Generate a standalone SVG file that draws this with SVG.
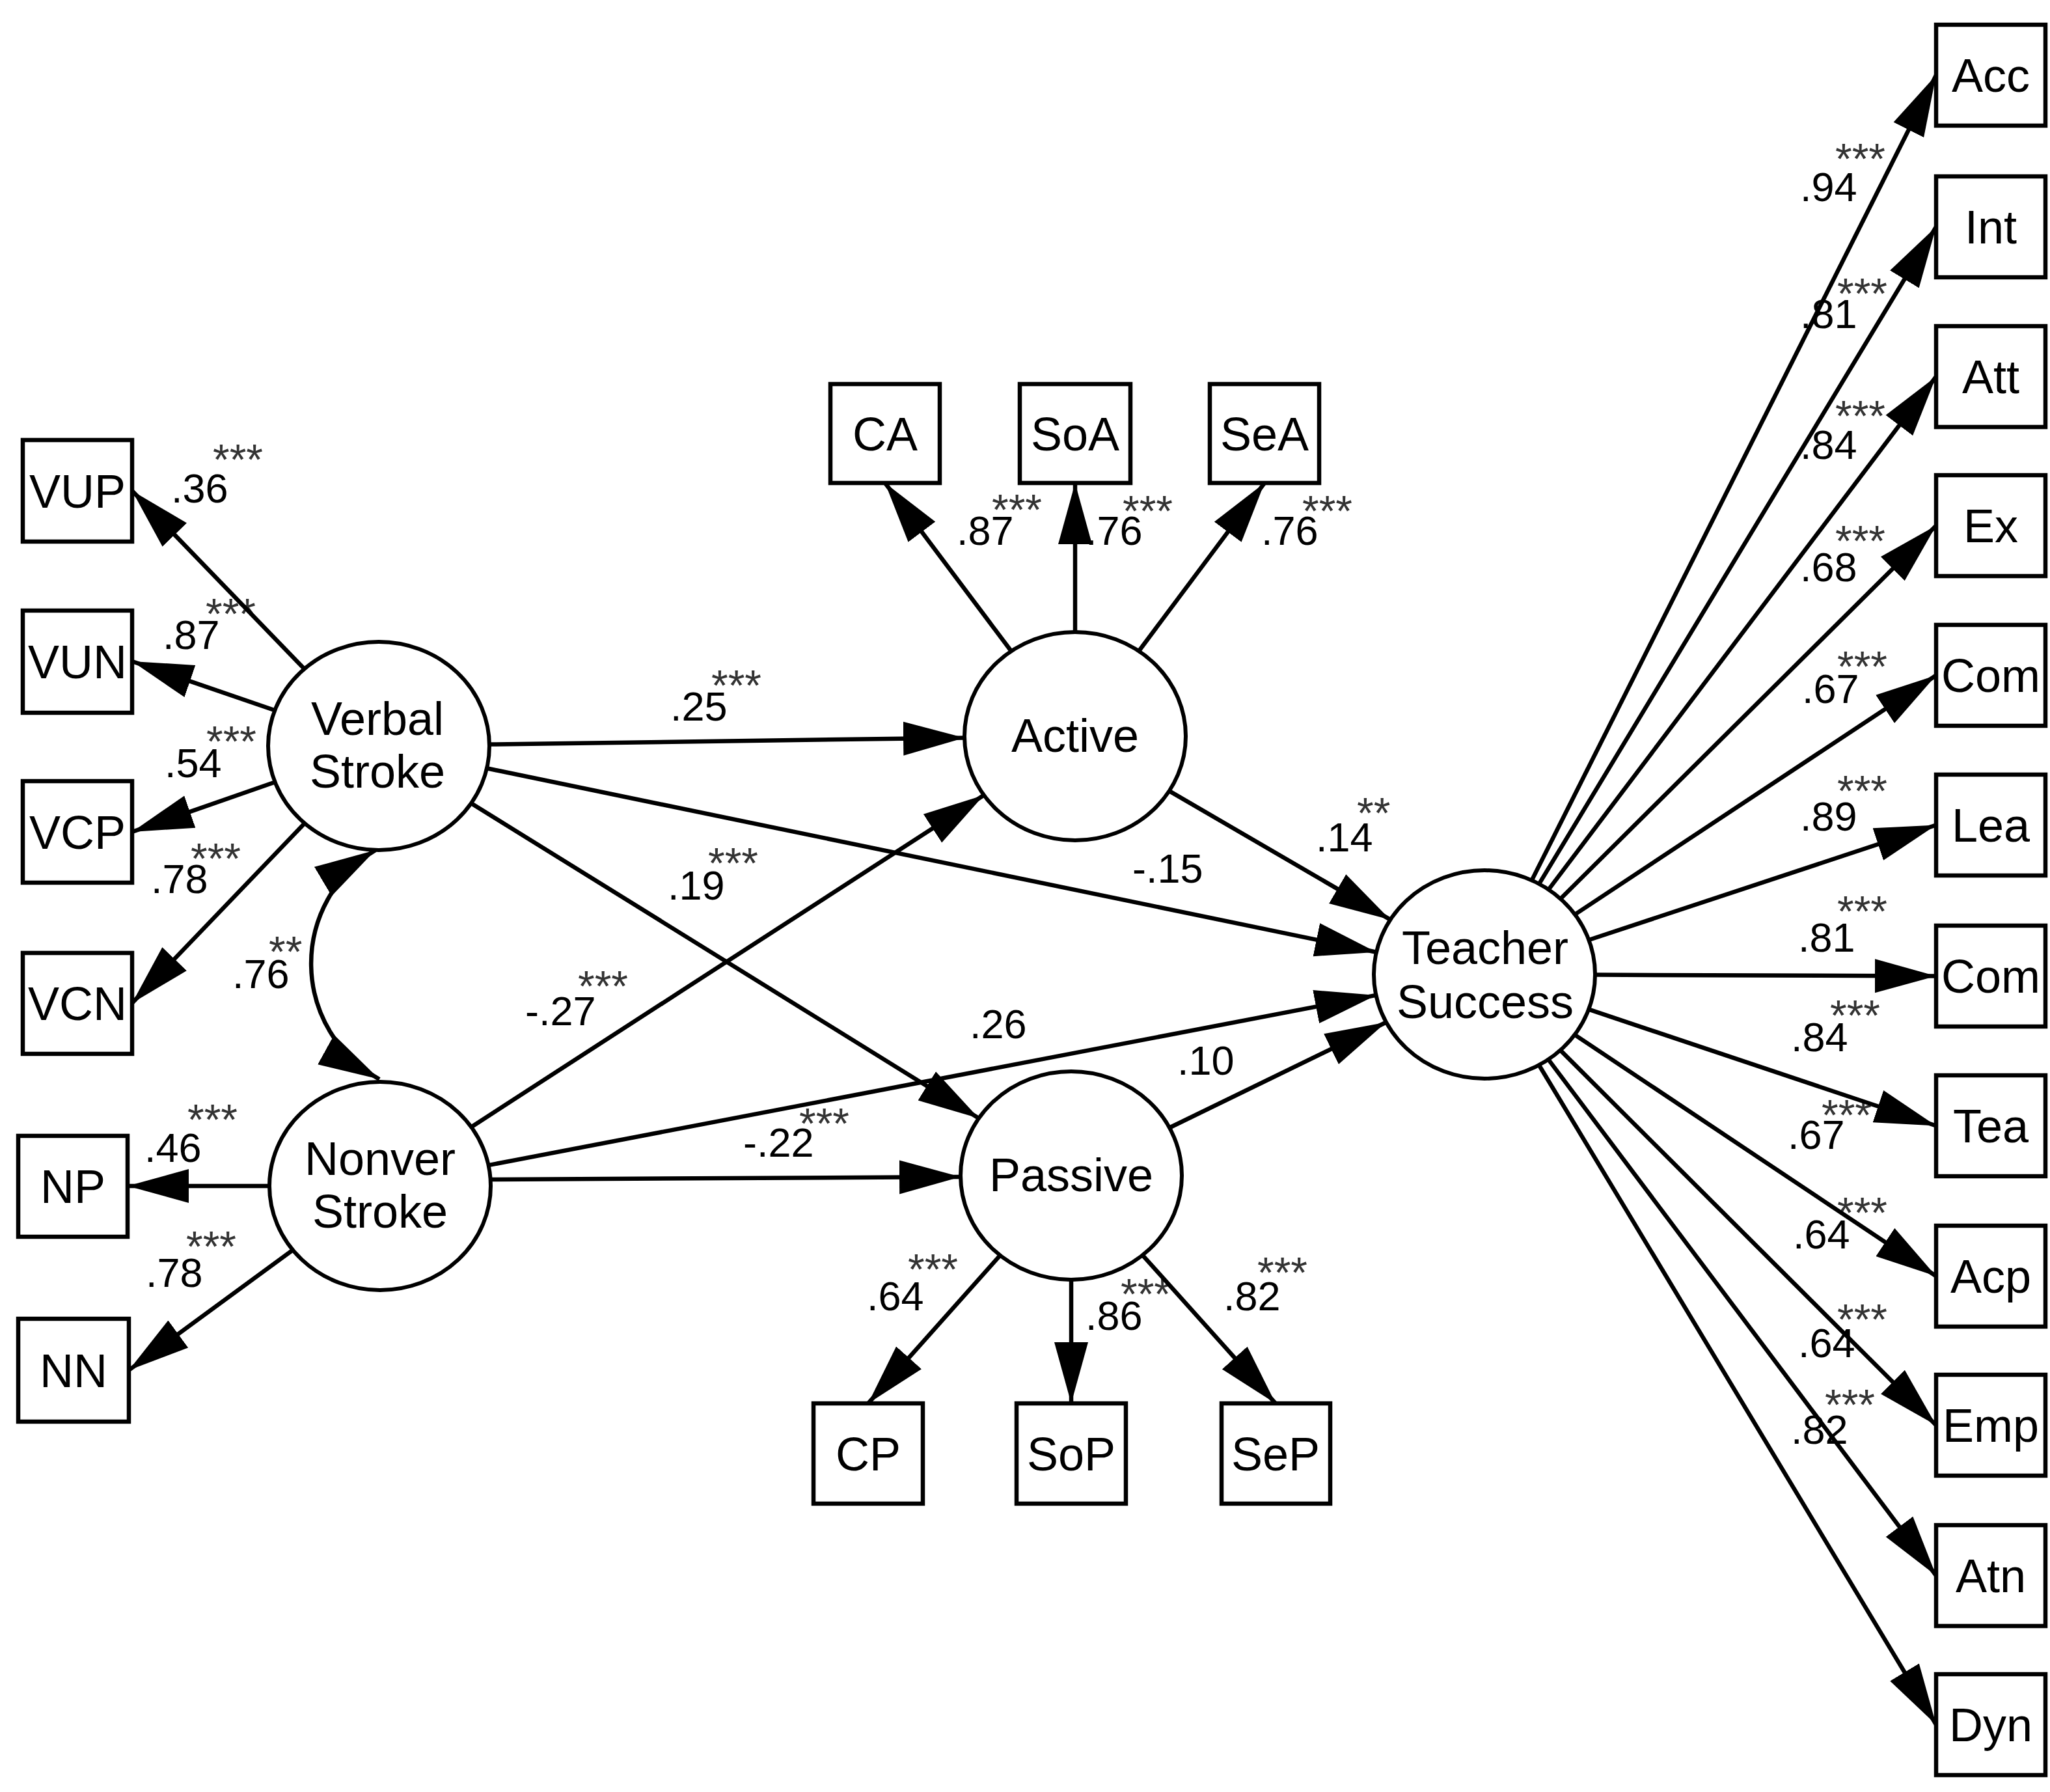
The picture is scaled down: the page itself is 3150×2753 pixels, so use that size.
<svg xmlns="http://www.w3.org/2000/svg" width="3150" height="2753" viewBox="0 0 3150 2753">
<style>
.bx{fill:#fff;stroke:#000;stroke-width:6.5}
.el{fill:#fff;stroke:#000;stroke-width:6}
.ln{fill:none;stroke:#000;stroke-width:6.5}
.nt{font-family:"Liberation Sans",Arial,sans-serif;font-size:72px;fill:#000;text-anchor:middle}
.num{font-family:"Liberation Sans",Arial,sans-serif;font-size:63px;fill:#000}
.st{font-family:"Liberation Sans",Arial,sans-serif;font-size:66px;fill:#333}
</style>
<defs>
<marker id="ah" markerUnits="userSpaceOnUse" viewBox="0 0 96 56" markerWidth="96" markerHeight="56" refX="94" refY="27" orient="auto-start-reverse">
<path d="M0,1 L94,27 L0,53 z" fill="#000"/>
</marker>
</defs>
<rect width="3150" height="2753" fill="#fff"/>

<g id="labels">
<text class="num" x="263" y="772">.36</text><text class="st" x="327" y="729">***</text>
<text class="num" x="250" y="997">.87</text><text class="st" x="316" y="966">***</text>
<text class="num" x="253" y="1194">.54</text><text class="st" x="317" y="1162">***</text>
<text class="num" x="232" y="1372">.78</text><text class="st" x="293" y="1342">***</text>
<text class="num" x="357" y="1518">.76</text><text class="st" x="413" y="1485">**</text>
<text class="num" x="222" y="1785">.46</text><text class="st" x="288" y="1743">***</text>
<text class="num" x="224" y="1977">.78</text><text class="st" x="286" y="1938">***</text>
<text class="num" x="1470" y="837">.87</text><text class="st" x="1524" y="806">***</text>
<text class="num" x="1668" y="837">.76</text><text class="st" x="1725" y="808">***</text>
<text class="num" x="1938" y="837">.76</text><text class="st" x="2001" y="808">***</text>
<text class="num" x="1030" y="1107">.25</text><text class="st" x="1093" y="1076">***</text>
<text class="num" x="1026" y="1382">.19</text><text class="st" x="1088" y="1349">***</text>
<text class="num" x="1740" y="1356">-.15</text>
<text class="num" x="807" y="1575">-.27</text><text class="st" x="888" y="1538">***</text>
<text class="num" x="1490" y="1595">.26</text>
<text class="num" x="1809" y="1651">.10</text>
<text class="num" x="1142" y="1777">-.22</text><text class="st" x="1228" y="1749">***</text>
<text class="num" x="2022" y="1308">.14</text><text class="st" x="2085" y="1272">**</text>
<text class="num" x="1332" y="2013">.64</text><text class="st" x="1395" y="1973">***</text>
<text class="num" x="1668" y="2043">.86</text><text class="st" x="1722" y="2011">***</text>
<text class="num" x="1880" y="2013">.82</text><text class="st" x="1932" y="1978">***</text>
<text class="num" x="2766" y="309">.94</text><text class="st" x="2820" y="267">***</text>
<text class="num" x="2766" y="504">.81</text><text class="st" x="2823" y="474">***</text>
<text class="num" x="2766" y="705">.84</text><text class="st" x="2820" y="662">***</text>
<text class="num" x="2766" y="893">.68</text><text class="st" x="2820" y="854">***</text>
<text class="num" x="2769" y="1080">.67</text><text class="st" x="2823" y="1047">***</text>
<text class="num" x="2766" y="1276">.89</text><text class="st" x="2823" y="1238">***</text>
<text class="num" x="2763" y="1462">.81</text><text class="st" x="2823" y="1423">***</text>
<text class="num" x="2752" y="1615">.84</text><text class="st" x="2812" y="1583">***</text>
<text class="num" x="2747" y="1765">.67</text><text class="st" x="2799" y="1736">***</text>
<text class="num" x="2755" y="1918">.64</text><text class="st" x="2823" y="1886">***</text>
<text class="num" x="2763" y="2085">.64</text><text class="st" x="2823" y="2050">***</text>
<text class="num" x="2752" y="2218">.82</text><text class="st" x="2804" y="2181">***</text>
</g>

<g id="connectors" class="ln" marker-end="url(#ah)">
<line x1="467.6" y1="1027.6" x2="203" y2="754"/>
<line x1="422.3" y1="1091.2" x2="203" y2="1016"/>
<line x1="422.6" y1="1201.5" x2="203" y2="1278"/>
<line x1="468.1" y1="1264.8" x2="203" y2="1541"/>
<line x1="414" y1="1822" x2="196" y2="1822"/>
<line x1="449.9" y1="1920.3" x2="198" y2="2105"/>
<line x1="1553.8" y1="1000.3" x2="1360" y2="742"/>
<line x1="1652" y1="971" x2="1652" y2="742"/>
<line x1="1749.9" y1="1000.2" x2="1943" y2="742"/>
<line x1="1536.7" y1="1928.6" x2="1334" y2="2156"/>
<line x1="1646" y1="1966" x2="1646" y2="2156"/>
<line x1="1755.7" y1="1928.3" x2="1960" y2="2156"/>
<line x1="752" y1="1143.6" x2="1482" y2="1133.4"/>
<line x1="748.1" y1="1180.3" x2="2114.9" y2="1462.7"/>
<line x1="723.9" y1="1234" x2="1504.1" y2="1718"/>
<line x1="724.1" y1="1731.4" x2="1511.9" y2="1221.6"/>
<line x1="750.5" y1="1790.1" x2="2114.5" y2="1528.9"/>
<line x1="754" y1="1812" x2="1476" y2="1808"/>
<line x1="1796.6" y1="1215.1" x2="2136.4" y2="1412.9"/>
<line x1="1797" y1="1732.5" x2="2130" y2="1570.5"/>
<line x1="2353.7" y1="1352.4" x2="2975" y2="115.5"/>
<line x1="2365" y1="1357.9" x2="2975" y2="348.5"/>
<line x1="2379.5" y1="1366.6" x2="2975" y2="578.5"/>
<line x1="2397.9" y1="1380.8" x2="2975" y2="807.5"/>
<line x1="2420" y1="1404.9" x2="2975" y2="1037.5"/>
<line x1="2441.4" y1="1444" x2="2975" y2="1267.5"/>
<line x1="2451" y1="1497.6" x2="2975" y2="1499.5"/>
<line x1="2441.2" y1="1550.7" x2="2975" y2="1729.5"/>
<line x1="2419.6" y1="1589.6" x2="2975" y2="1960.5"/>
<line x1="2397.6" y1="1613.4" x2="2975" y2="2189.5"/>
<line x1="2379.2" y1="1627.6" x2="2975" y2="2420.5"/>
<line x1="2364.8" y1="1636.2" x2="2975" y2="2649.5"/>
<path d="M577,1306 A203,203 0 0 0 583,1658" marker-start="url(#ah)"/>
</g>

<g id="node-VerbalStroke"><ellipse class="el" cx="582" cy="1146" rx="170" ry="160"/><text class="nt" x="580" y="1129">Verbal</text><text class="nt" x="580" y="1210">Stroke</text></g>
<g id="node-NonverStroke"><ellipse class="el" cx="584" cy="1822" rx="170" ry="160"/><text class="nt" x="584" y="1805">Nonver</text><text class="nt" x="584" y="1886">Stroke</text></g>
<g id="node-Active"><ellipse class="el" cx="1652" cy="1131" rx="170" ry="160"/><text class="nt" x="1652" y="1155">Active</text></g>
<g id="node-Passive"><ellipse class="el" cx="1646" cy="1806" rx="170" ry="160"/><text class="nt" x="1646" y="1830">Passive</text></g>
<g id="node-TeacherSuccess"><ellipse class="el" cx="2281" cy="1497" rx="170" ry="160"/><text class="nt" x="2282" y="1481">Teacher</text><text class="nt" x="2282" y="1564">Success</text></g>

<g id="node-VUP"><rect class="bx" x="35" y="676" width="168" height="156"/><text class="nt" x="119" y="780">VUP</text></g>
<g id="node-VUN"><rect class="bx" x="35" y="938" width="168" height="157"/><text class="nt" x="119" y="1042">VUN</text></g>
<g id="node-VCP"><rect class="bx" x="35" y="1200" width="168" height="156"/><text class="nt" x="119" y="1304">VCP</text></g>
<g id="node-VCN"><rect class="bx" x="35" y="1464" width="168" height="155"/><text class="nt" x="119" y="1567">VCN</text></g>
<g id="node-NP"><rect class="bx" x="28" y="1745" width="168" height="155"/><text class="nt" x="112" y="1848">NP</text></g>
<g id="node-NN"><rect class="bx" x="28" y="2026" width="170" height="158"/><text class="nt" x="113" y="2131">NN</text></g>

<g id="node-CA"><rect class="bx" x="1276" y="590" width="168" height="152"/><text class="nt" x="1360" y="692">CA</text></g>
<g id="node-SoA"><rect class="bx" x="1567" y="590" width="170" height="152"/><text class="nt" x="1652" y="692">SoA</text></g>
<g id="node-SeA"><rect class="bx" x="1859" y="590" width="168" height="152"/><text class="nt" x="1943" y="692">SeA</text></g>

<g id="node-CP"><rect class="bx" x="1250" y="2156" width="168" height="154"/><text class="nt" x="1334" y="2259">CP</text></g>
<g id="node-SoP"><rect class="bx" x="1562" y="2156" width="168" height="154"/><text class="nt" x="1646" y="2259">SoP</text></g>
<g id="node-SeP"><rect class="bx" x="1877" y="2156" width="167" height="154"/><text class="nt" x="1960" y="2259">SeP</text></g>

<g id="node-Acc"><rect class="bx" x="2975" y="38" width="168" height="155"/><text class="nt" x="3059" y="141">Acc</text></g>
<g id="node-Int"><rect class="bx" x="2975" y="271" width="168" height="155"/><text class="nt" x="3059" y="374">Int</text></g>
<g id="node-Att"><rect class="bx" x="2975" y="501" width="168" height="155"/><text class="nt" x="3059" y="604">Att</text></g>
<g id="node-Ex"><rect class="bx" x="2975" y="730" width="168" height="155"/><text class="nt" x="3059" y="833">Ex</text></g>
<g id="node-Com1"><rect class="bx" x="2975" y="960" width="168" height="155"/><text class="nt" x="3059" y="1063">Com</text></g>
<g id="node-Lea"><rect class="bx" x="2975" y="1190" width="168" height="155"/><text class="nt" x="3059" y="1293">Lea</text></g>
<g id="node-Com2"><rect class="bx" x="2975" y="1422" width="168" height="155"/><text class="nt" x="3059" y="1525">Com</text></g>
<g id="node-Tea"><rect class="bx" x="2975" y="1652" width="168" height="155"/><text class="nt" x="3059" y="1755">Tea</text></g>
<g id="node-Acp"><rect class="bx" x="2975" y="1883" width="168" height="155"/><text class="nt" x="3059" y="1986">Acp</text></g>
<g id="node-Emp"><rect class="bx" x="2975" y="2112" width="168" height="155"/><text class="nt" x="3059" y="2215">Emp</text></g>
<g id="node-Atn"><rect class="bx" x="2975" y="2343" width="168" height="155"/><text class="nt" x="3059" y="2446">Atn</text></g>
<g id="node-Dyn"><rect class="bx" x="2975" y="2572" width="168" height="155"/><text class="nt" x="3059" y="2675">Dyn</text></g>
</svg>
